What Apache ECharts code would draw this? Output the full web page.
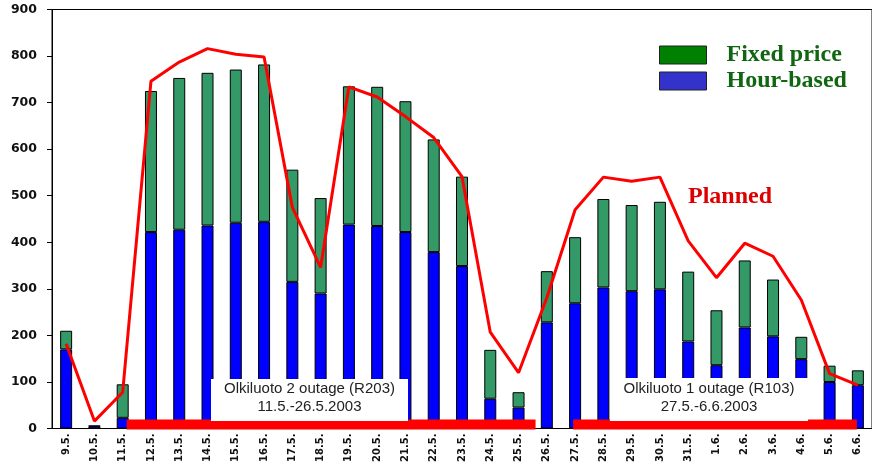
<!DOCTYPE html>
<html>
<head>
<meta charset="utf-8">
<script src="https://cdn.jsdelivr.net/npm/echarts@6/dist/echarts.min.js"></script>
<style>
  html, body { margin: 0; padding: 0; background: #fff; }
  #chart { width: 872px; height: 465px; }
</style>
</head>
<body>
<div id="chart"></div>
<script>
// dates on the x axis
const days = ['9.5.', '10.5.', '11.5.', '12.5.', '13.5.', '14.5.', '15.5.', '16.5.', '17.5.', '18.5.',
  '19.5.', '20.5.', '21.5.', '22.5.', '23.5.', '24.5.', '25.5.', '26.5.', '27.5.', '28.5.',
  '29.5.', '30.5.', '31.5.', '1.6.', '2.6.', '3.6.', '4.6.', '5.6.', '6.6.']
// hour-based part (bottom of the stack)
const hourBased = [170, 5, 23, 422, 427, 436, 442, 444, 315, 290,
  438, 435, 422, 379, 349, 64, 45, 228, 269, 303,
  295, 299, 187, 136, 217, 198, 149, 100, 93]
// fixed price part (top of the stack)
const fixedPrice = [40, 1, 72, 303, 326, 328, 329, 338, 241, 205,
  297, 299, 281, 242, 192, 105, 33, 110, 142, 190,
  185, 188, 150, 118, 144, 122, 48, 35, 32]
// planned line
const planned = [182, 16, 78, 746, 787, 816, 804, 798, 475, 346,
  734, 712, 670, 625, 541, 207, 120, 281, 470, 540,
  531, 540, 403, 324, 398, 370, 276, 118, 93]
const yTicks = [0, 900, 100]   // min, max, interval

const chart = echarts.init(document.getElementById('chart'))

const option = {
  animation: false,
  backgroundColor: '#fff',
  grid: {
    left: 52, right: -4, top: 9.5, bottom: 35,
    show: true, borderColor: '#000', borderWidth: 1
  },
  legend: {
    orient: 'vertical',
    left: 659, top: 43, padding: 0,
    itemWidth: 47, itemHeight: 18, itemGap: 2,
    selectedMode: false,
    textStyle: {
      fontFamily: 'Liberation Serif', fontWeight: 'bold', fontSize: 24,
      color: '#116611', padding: [0, 0, 0, 15]
    },
    data: [
      { name: 'Fixed price', icon: 'rect', itemStyle: { color: '#008000', borderColor: '#222', borderWidth: 1 } },
      { name: 'Hour-based', icon: 'rect', itemStyle: { color: '#3333cc', borderColor: '#222', borderWidth: 1 } }
    ]
  },
  xAxis: {
    type: 'category',
    data: days,
    axisLine: { lineStyle: { color: '#000', width: 1 } },
    axisTick: { length: 4, lineStyle: { color: '#000' } },
    axisLabel: {
      rotate: 90, margin: 5, interval: 0,
      fontFamily: 'DejaVu Sans', fontWeight: 'bold', fontSize: 10, color: '#111'
    }
  },
  yAxis: {
    type: 'value',
    min: yTicks[0], max: yTicks[1], interval: yTicks[2],
    splitLine: { show: false },
    axisLine: { show: true, lineStyle: { color: '#000', width: 1 } },
    axisTick: { show: true, length: 5, lineStyle: { color: '#000' } },
    axisLabel: {
      margin: 15,
      fontFamily: 'DejaVu Sans', fontWeight: 'bold', fontSize: 12.5, color: '#111'
    }
  },
  series: [
    {
      name: 'Hour-based', type: 'bar', stack: 'sum', data: hourBased,
      barWidth: 12,
      itemStyle: { color: '#0000ff', borderColor: '#000', borderWidth: 1 }
    },
    {
      name: 'Fixed price', type: 'bar', stack: 'sum', data: fixedPrice,
      barWidth: 12,
      itemStyle: { color: '#339966', borderColor: '#000', borderWidth: 1 }
    },
    {
      name: 'Planned', type: 'line', data: planned,
      symbol: 'none', z: 5,
      lineStyle: { color: '#ff0000', width: 3 }
    }
  ]
}
chart.setOption(option)

// outage annotations, placed from the axis scale
const px = (cat, v) => chart.convertToPixel({ gridIndex: 0 }, [cat, v])
const y0 = px(days[0], 0)[1]
const outage = (from, to, dx1, dx2) => {
  const a = px(from, 0)[0] + dx1
  const b = px(to, 0)[0] + dx2
  return {
    type: 'rect', z: 100,
    shape: { x: a, y: y0 - 9, width: b - a, height: 10 },
    style: { fill: '#ff0000' }
  }
}
const box = (x, y, w, h, lines) => [
  { type: 'rect', z: 100, shape: { x: x, y: y, width: w, height: h }, style: { fill: '#fff' } },
  {
    type: 'text', z: 101, x: x + w / 2, y: y + h / 2 - 2,
    style: {
      text: lines, align: 'center', verticalAlign: 'middle',
      font: '15px "Liberation Sans"', lineHeight: 18, fill: '#222'
    }
  }
]

chart.setOption({
  graphic: [
    outage('11.5.', '25.5.', 4, 17),
    outage('27.5.', '6.6.', -2, -1),
    ...box(211, 379, 197, 42, 'Olkiluoto 2 outage (R203)\n11.5.-26.5.2003'),
    ...box(610, 378, 198, 43, 'Olkiluoto 1 outage (R103)\n27.5.-6.6.2003'),
    {
      type: 'text', z: 100, x: 688, y: 197,
      style: {
        text: 'Planned', verticalAlign: 'middle',
        font: 'bold 24px "Liberation Serif"', fill: '#dd0000'
      }
    }
  ]
})
</script>
</body>
</html>
